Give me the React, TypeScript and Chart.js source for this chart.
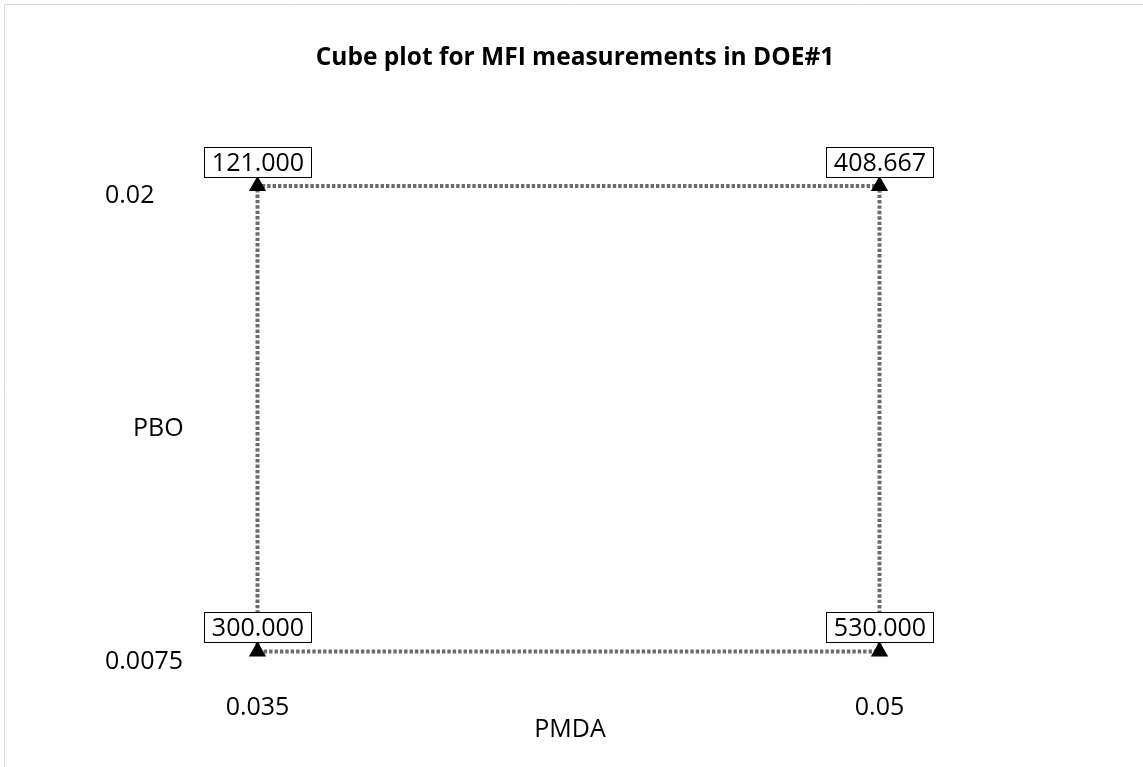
import React, { useEffect, useRef } from "react";
import { Chart, registerables } from "chart.js";

Chart.register(...registerables);

// Factor levels for each corner run and the measured response
const pmda = [0.035, 0.05, 0.035, 0.05];
const pbo = [0.0075, 0.0075, 0.02, 0.02];
const mfi = [300.0, 530.0, 121.0, 408.667];

// Axis tick values (factor levels)
const pmdaTicks = [0.035, 0.05];
const pboTicks = [0.0075, 0.02];

// Order in which the corners are joined to form the square's outline
const outlineOrder = [0, 2, 3, 1, 0];

// Axis ranges
const pmdaRange = [0.0336133, 0.051459];
const pboRange = [0.0070027, 0.0215188];

const FONT = "'Open Sans', 'Noto Sans', sans-serif";
const TEXT_SIZE = 25;

const framePlugin = {
  id: "frameLines",
  beforeDraw(chart: any) {
    const { ctx, width, height } = chart;
    ctx.save();
    ctx.strokeStyle = "#d9d9d9";
    ctx.lineWidth = 1;
    ctx.beginPath();
    ctx.moveTo(4.5, height);
    ctx.lineTo(4.5, 4.5);
    ctx.lineTo(width, 4.5);
    ctx.stroke();
    ctx.restore();
  },
};

const cornerLabelPlugin = {
  id: "cornerLabels",
  afterDatasetsDraw(chart: any) {
    const { ctx } = chart;
    const meta = chart.getDatasetMeta(1);
    ctx.save();
    ctx.font = `${TEXT_SIZE}px ${FONT}`;
    ctx.textAlign = "center";
    ctx.textBaseline = "middle";
    meta.data.forEach((pt: any, i: number) => {
      const text = mfi[i].toFixed(3);
      const w = Math.round(ctx.measureText(text).width + 15);
      const h = 30;
      const left = Math.round(pt.x - w / 2) + 0.5;
      const top = Math.round(pt.y - 9 - h) + 0.5;
      ctx.fillStyle = "#ffffff";
      ctx.fillRect(left, top, w, h);
      ctx.strokeStyle = "#000000";
      ctx.lineWidth = 1;
      ctx.strokeRect(left, top, w, h);
      ctx.fillStyle = "#000000";
      ctx.fillText(text, left + w / 2, top + h / 2 + 1);
    });
    ctx.restore();
  },
};

const pboTitlePlugin = {
  id: "pboTitle",
  afterDraw(chart: any) {
    const { ctx } = chart;
    const y = chart.scales.y;
    const mid =
      (y.getPixelForValue(pboTicks[0]) + y.getPixelForValue(pboTicks[1])) / 2 +
      y.options.ticks.labelOffset;
    ctx.save();
    ctx.font = `${TEXT_SIZE}px ${FONT}`;
    ctx.fillStyle = "#000000";
    ctx.textAlign = "left";
    ctx.textBaseline = "middle";
    ctx.fillText("PBO", y.left + 28, mid);
    ctx.restore();
  },
};

export default function App() {
  const canvasRef = useRef<HTMLCanvasElement | null>(null);

  useEffect(() => {
    if (!canvasRef.current) return;
    const corners = pmda.map((x, i) => ({ x, y: pbo[i] }));
    const outline = outlineOrder.map((i) => ({ x: pmda[i], y: pbo[i] }));
    const tickFont = { family: FONT, size: TEXT_SIZE };

    const chart = new Chart(canvasRef.current, {
      type: "scatter",
      data: {
        datasets: [
          {
            data: outline,
            showLine: true,
            borderColor: "#6b6b6b",
            borderWidth: 4,
            borderDash: [3.4, 2],
            pointRadius: 0,
            fill: false,
            order: 2,
          },
          {
            data: corners,
            pointStyle: "triangle",
            pointRadius: 10,
            backgroundColor: "#000000",
            borderColor: "#000000",
            borderWidth: 0,
            order: 1,
          },
        ],
      },
      options: {
        responsive: false,
        animation: false,
        events: [],
        layout: { padding: { left: 105, right: 98, top: 0, bottom: 7 } },
        plugins: {
          legend: { display: false },
          tooltip: { enabled: false },
          title: {
            display: true,
            text: "Cube plot for MFI measurements in DOE#1",
            color: "#000000",
            font: { family: FONT, size: 24.5, weight: "bold" },
            padding: { top: 43, bottom: 57 },
          },
        },
        scales: {
          x: {
            type: "linear",
            min: pmdaRange[0],
            max: pmdaRange[1],
            grid: { display: false, drawTicks: false },
            border: { display: false },
            afterBuildTicks: (s: any) => {
              s.ticks = pmdaTicks.map((v) => ({ value: v }));
            },
            afterFit: (s: any) => {
              s.height = 90;
            },
            ticks: {
              font: tickFont,
              color: "#000000",
              padding: 23,
              maxRotation: 0,
              callback: (v: any) => String(v),
            },
            title: {
              display: true,
              text: "PMDA",
              color: "#000000",
              font: tickFont,
              padding: { top: 0, bottom: 15 },
            },
          },
          y: {
            type: "linear",
            position: "left",
            min: pboRange[0],
            max: pboRange[1],
            grid: { display: false, drawTicks: false },
            border: { display: false },
            afterBuildTicks: (s: any) => {
              s.ticks = pboTicks.map((v) => ({ value: v }));
            },
            afterFit: (s: any) => {
              s.width = 95;
            },
            ticks: {
              font: tickFont,
              color: "#000000",
              crossAlign: "far",
              padding: 0,
              labelOffset: 10,
              callback: (v: any) => String(v),
            },
          },
          // empty right-hand band that balances the plot area under the heading
          y2: {
            type: "linear",
            position: "right",
            display: true,
            grid: { display: false, drawTicks: false },
            border: { display: false },
            ticks: { display: false },
            afterFit: (s: any) => {
              s.width = 105;
            },
          },
        },
      } as any,
      plugins: [framePlugin, cornerLabelPlugin, pboTitlePlugin],
    });

    return () => chart.destroy();
  }, []);

  return (
    <div style={{ position: "absolute", left: 0, top: 0, width: 1143, height: 767, background: "#ffffff" }}>
      <canvas ref={canvasRef} width={1143} height={767} />
    </div>
  );
}
